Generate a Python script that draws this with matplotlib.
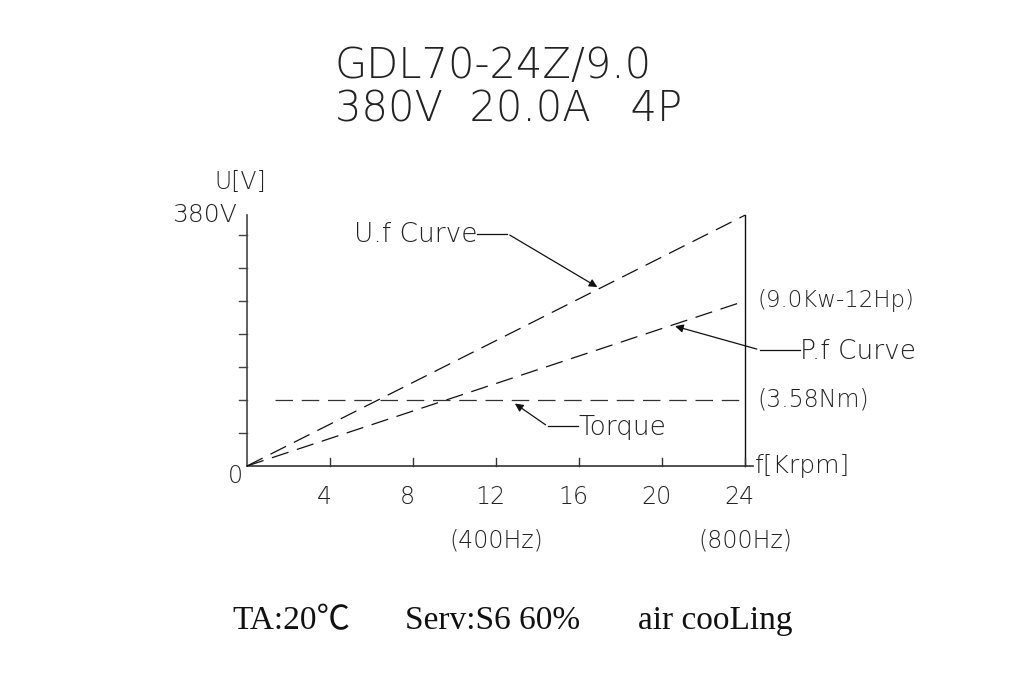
import matplotlib
matplotlib.use('Agg')
import matplotlib.pyplot as plt
import numpy as np

# data
speed_krpm = [0, 24]
uf_volt = [0, 380]
pf_volt = [0, 250]
torque_x = [1.35, 24]
torque_volt = [100, 100]
x_ticks = [4, 8, 12, 16, 20, 24]
x_tick_labels = ['4', '8', '12', '16', '20', '24']
y_ticks = [50, 100, 150, 200, 250, 300, 350]
freq_labels = ['(400Hz)', '(800Hz)']
freq_pos = [12, 24]

W, H = 1035, 684
fig = plt.figure(figsize=(W / 100, H / 100), dpi=100)
ax = fig.add_axes([247 / W, (H - 466) / H, 498 / W, 380 * 0.66 / H])
ax.set_xlim(0, 24)
ax.set_ylim(0, 380)
ax.axis('off')

cad = dict(family=['DejaVu Sans'], weight='ultralight', color='#222222')
ink = '#111111'

# axes
ax.plot([0, 0], [0, 380], color='#444444', lw=1.2, clip_on=False)
ax.plot([0, 24.4], [0, 0], color='#333333', lw=1.2, clip_on=False)
ax.plot([24, 24], [0, 380], color=ink, lw=1.0, clip_on=False)
for t in y_ticks:
    ax.plot([-0.38, 0], [t, t], color='#444444', lw=1.0, clip_on=False)
for t in x_ticks:
    ax.plot([t, t], [0, 12], color='#333333', lw=1.0, clip_on=False)

# curves
dash = (14, 7)
ax.plot(speed_krpm, uf_volt, color=ink, lw=0.9, dashes=dash, clip_on=False)
ax.plot(speed_krpm, pf_volt, color=ink, lw=0.9, dashes=dash, clip_on=False)
ax.plot(torque_x, torque_volt, color='#333333', lw=0.9, dashes=dash, clip_on=False)

# tick labels
for t, s in zip(x_ticks, x_tick_labels):
    ax.text(t - 0.25, -47, s, ha='center', va='center', fontsize=17, **cad)
for t, s in zip(freq_pos, freq_labels):
    ax.text(t, -113, s, ha='center', va='center', fontsize=17, **cad)
ax.text(-0.55, -15, '0', ha='center', va='center', fontsize=17, **cad)
ax.text(-0.5, 380, '380V', ha='right', va='center', fontsize=18, **cad)
ax.text(-1.55, 430, 'U[V]', ha='left', va='center', fontsize=17, **cad)
ax.text(24.5, 0, 'f[Krpm]', ha='left', va='center', fontsize=18, **cad)
ax.text(24.6, 250, '(9.0Kw-12Hp)', ha='left', va='center', fontsize=16.5, **cad)
ax.text(24.6, 100, '(3.58Nm)', ha='left', va='center', fontsize=17, **cad)

# callouts
arrow = dict(arrowstyle='-|>', color=ink, lw=0.9, mutation_scale=12)
ax.annotate('', xy=(17.0, 269), xytext=(12.55, 352), arrowprops=arrow)
ax.plot([11.1, 12.55], [352, 352], color=ink, lw=0.9)
ax.text(11.1, 350, 'U.f Curve', ha='right', va='center', fontsize=19, **cad)

ax.annotate('', xy=(20.5, 213), xytext=(24.7, 176), arrowprops=arrow, annotation_clip=False)
ax.plot([24.7, 26.65], [176, 176], color=ink, lw=0.9, clip_on=False)
ax.text(26.65, 173, 'P.f Curve', ha='left', va='center', fontsize=19, **cad)

ax.annotate('', xy=(12.8, 97), xytext=(14.5, 60), arrowprops=arrow)
ax.plot([14.5, 15.95], [60, 60], color=ink, lw=0.9)
ax.text(15.95, 59, 'Torque', ha='left', va='center', fontsize=19, **cad)

# title
fig.text(335 / W, 1 - 66 / H, 'GDL70-24Z/9.0', ha='left', va='center', fontsize=30, **cad)
fig.text(335 / W, 1 - 109 / H, '380V  20.0A   4P', ha='left', va='center', fontsize=30, **cad)

# footer
serif = dict(family=['Liberation Serif', 'Noto Sans CJK SC', 'DejaVu Serif'],
             color='#111111', fontsize=24)
fig.text(232 / W, 1 - 621 / H, 'TA:20\u2103', ha='left', va='center', **serif)
fig.text(405 / W, 1 - 621 / H, 'Serv:S6 60%', ha='left', va='center', **serif)
fig.text(638 / W, 1 - 621 / H, 'air cooLing', ha='left', va='center', **serif)

fig.savefig('out.png', dpi=100)
